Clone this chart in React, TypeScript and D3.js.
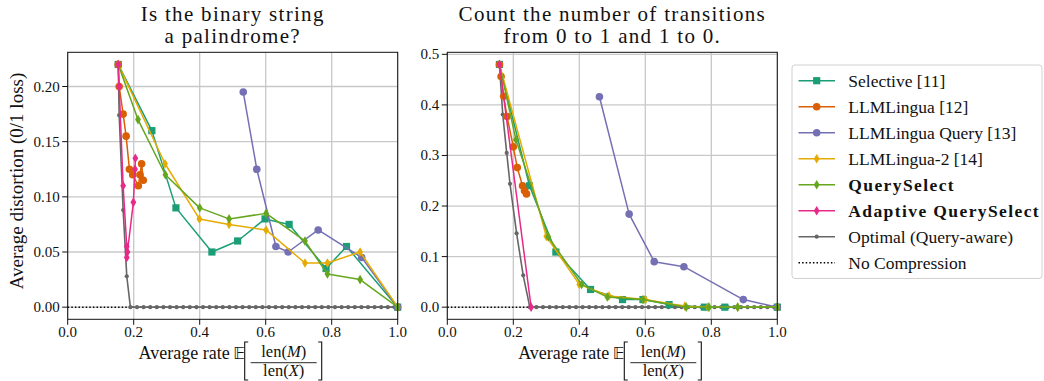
import * as d3 from 'd3';

type Pt = [number, number];

// ---- left panel: "Is the binary string a palindrome?" (rate, distortion)
const palSelective: Pt[] = [[0.153, 0.22], [0.255, 0.16], [0.328, 0.09], [0.437, 0.05], [0.515, 0.06], [0.598, 0.08], [0.671, 0.075], [0.783, 0.035], [0.845, 0.055], [1.0, 0.0]];
const palLingua: Pt[] = [[0.153, 0.22], [0.156, 0.2], [0.168, 0.175], [0.177, 0.155], [0.187, 0.125], [0.197, 0.12], [0.214, 0.11], [0.219, 0.12], [0.224, 0.13], [0.229, 0.115]];
const palLinguaQuery: Pt[] = [[0.532, 0.195], [0.573, 0.125], [0.631, 0.055], [0.668, 0.05], [0.759, 0.07], [0.891, 0.045], [1.0, 0.0]];
const palLingua2: Pt[] = [[0.153, 0.22], [0.295, 0.13], [0.399, 0.08], [0.489, 0.075], [0.601, 0.07], [0.719, 0.04], [0.787, 0.04], [0.886, 0.05], [1.0, 0.0]];
const palQuerySelect: Pt[] = [[0.153, 0.22], [0.213, 0.17], [0.296, 0.12], [0.4, 0.09], [0.489, 0.08], [0.601, 0.085], [0.719, 0.06], [0.787, 0.03], [0.886, 0.025], [1.0, 0.0]];
const palAdaptive: Pt[] = [[0.153, 0.22], [0.156, 0.2], [0.168, 0.11], [0.179, 0.055], [0.181, 0.05], [0.179, 0.045], [0.199, 0.095], [0.204, 0.125], [0.205, 0.135]];
const palOptimal: Pt[] = [
  [0.153, 0.22], [0.156, 0.174], [0.168, 0.088], [0.179, 0.028], [0.19, 0],
  [0.21, 0], [0.23, 0], [0.25, 0], [0.27, 0], [0.29, 0], [0.31, 0], [0.33, 0], [0.35, 0], [0.37, 0], [0.39, 0],
  [0.41, 0], [0.43, 0], [0.45, 0], [0.47, 0], [0.49, 0], [0.51, 0], [0.53, 0], [0.55, 0], [0.57, 0], [0.59, 0],
  [0.61, 0], [0.63, 0], [0.65, 0], [0.67, 0], [0.69, 0], [0.71, 0], [0.73, 0], [0.75, 0], [0.77, 0], [0.79, 0],
  [0.81, 0], [0.83, 0], [0.85, 0], [0.87, 0], [0.89, 0], [0.91, 0], [0.93, 0], [0.95, 0], [0.97, 0], [0.99, 0], [1.0, 0],
];

// ---- right panel: "Count the number of transitions"
const trSelective: Pt[] = [[0.158, 0.48], [0.249, 0.24], [0.329, 0.109], [0.434, 0.035], [0.531, 0.015], [0.593, 0.015], [0.672, 0.005], [0.779, 0.0], [0.841, 0.0], [1.0, 0.0]];
const trLingua: Pt[] = [[0.158, 0.48], [0.163, 0.456], [0.171, 0.417], [0.181, 0.377], [0.2, 0.317], [0.212, 0.276], [0.228, 0.24], [0.234, 0.23], [0.24, 0.224]];
const trLinguaQuery: Pt[] = [[0.461, 0.416], [0.551, 0.184], [0.627, 0.09], [0.717, 0.08], [0.897, 0.015], [1.0, 0.0]];
const trLingua2: Pt[] = [[0.158, 0.48], [0.3, 0.14], [0.4, 0.045], [0.49, 0.022], [0.6, 0.015], [0.72, 0.002], [0.79, 0.0], [0.88, 0.0], [1.0, 0.0]];
const trQuerySelect: Pt[] = [[0.158, 0.48], [0.208, 0.331], [0.306, 0.139], [0.407, 0.045], [0.485, 0.02], [0.593, 0.015], [0.724, 0.0], [0.793, 0.0], [0.88, 0.0], [1.0, 0.0]];
const trAdaptive: Pt[] = [[0.158, 0.48], [0.254, 0.0]];
const trOptimal: Pt[] = [
  [0.158, 0.48], [0.168, 0.381], [0.18, 0.305], [0.19, 0.244], [0.21, 0.146], [0.23, 0.063], [0.25, 0],
  [0.27, 0], [0.29, 0], [0.31, 0], [0.33, 0], [0.35, 0], [0.37, 0], [0.39, 0],
  [0.41, 0], [0.43, 0], [0.45, 0], [0.47, 0], [0.49, 0], [0.51, 0], [0.53, 0], [0.55, 0], [0.57, 0], [0.59, 0],
  [0.61, 0], [0.63, 0], [0.65, 0], [0.67, 0], [0.69, 0], [0.71, 0], [0.73, 0], [0.75, 0], [0.77, 0], [0.79, 0],
  [0.81, 0], [0.83, 0], [0.85, 0], [0.87, 0], [0.89, 0], [0.91, 0], [0.93, 0], [0.95, 0], [0.97, 0], [0.99, 0], [1.0, 0],
];

const methodNames = ['Selective [11]', 'LLMLingua [12]', 'LLMLingua Query [13]', 'LLMLingua-2 [14]', 'QuerySelect', 'Adaptive QuerySelect', 'Optimal (Query-aware)'];
const methodColors = ['#1b9e77', '#d95f02', '#7570b3', '#e6ab02', '#66a61e', '#e7298a', '#666666'];
const methodMarkers = ['square', 'circle', 'circle', 'diamond', 'diamond', 'diamond', 'point'];
const boldNames = new Set(['QuerySelect', 'Adaptive QuerySelect']);

const FONT = '"Liberation Serif", "Times New Roman", serif';

function Marker({ kind, x, y, color }) {
  if (kind === 'square') return <rect x={x - 3.6} y={y - 3.6} width={7.2} height={7.2} fill={color} />;
  if (kind === 'circle') return <circle cx={x} cy={y} r={3.8} fill={color} />;
  if (kind === 'point') return <circle cx={x} cy={y} r={2.1} fill={color} />;
  return <path d={`M${x},${y - 4.8}L${x + 2.9},${y}L${x},${y + 4.8}L${x - 2.9},${y}Z`} fill={color} />;
}

function XLabel({ cx }) {
  const base = 359;
  return (
    <g fontFamily={FONT} fill="#111">
      <text x={cx - 3} y={base} fontSize={18} textAnchor="end">Average rate</text>
      <text x={cx + 0.5} y={base} fontSize={16} fontFamily='"DejaVu Sans", "Noto Sans", sans-serif'>𝔼</text>
      <path d={`M${cx + 15.5},342 H${cx + 12} V380 H${cx + 15.5}`} fill="none" stroke="#111" strokeWidth={1.1} />
      <path d={`M${cx + 85.5},342 H${cx + 89} V380 H${cx + 85.5}`} fill="none" stroke="#111" strokeWidth={1.1} />
      <line x1={cx + 18} x2={cx + 84} y1={362.7} y2={362.7} stroke="#111" strokeWidth={0.9} />
      <text x={cx + 51} y={357.3} fontSize={16.5} textAnchor="middle">len(<tspan fontStyle="italic">M</tspan>)</text>
      <text x={cx + 51} y={376.3} fontSize={16.5} textAnchor="middle">len(<tspan fontStyle="italic">X</tspan>)</text>
    </g>
  );
}

function Panel({ x0, x1, y0, y1, title, datasets, yFmt, showYLabel }) {
  const x = d3.scaleLinear().domain([0, 1]).range([x0, x1]);
  const maxY = d3.max(datasets.flat(), (d: Pt) => d[1]) as number;
  const pad = maxY * 0.05;
  const y = d3.scaleLinear().domain([-pad, maxY + pad]).range([y1, y0]);
  const line = d3.line<Pt>().x((d) => x(d[0])).y((d) => y(d[1]));
  const xTicks = x.ticks(5);
  const yTicks = y.ticks(5);
  const fmt = d3.format(yFmt);
  const cx = (x0 + x1) / 2;
  // draw order: optimal underneath, then others in legend order
  const order = [6, 0, 1, 2, 3, 4, 5];

  return (
    <g>
      <text x={cx} y={20.5} fontFamily={FONT} fontSize={21} letterSpacing={1.3} fill="#111" textAnchor="middle">{title[0]}</text>
      <text x={cx} y={43} fontFamily={FONT} fontSize={21} letterSpacing={1.3} fill="#111" textAnchor="middle">{title[1]}</text>
      {xTicks.map((t) => (
        <line key={'gx' + t} x1={x(t)} x2={x(t)} y1={y0} y2={y1} stroke="#c8c8c8" strokeWidth={1.3} />
      ))}
      {yTicks.map((t) => (
        <line key={'gy' + t} x1={x0} x2={x1} y1={y(t)} y2={y(t)} stroke="#c8c8c8" strokeWidth={1.3} />
      ))}
      <line x1={x0} x2={x1} y1={y(0)} y2={y(0)} stroke="#000" strokeWidth={1.5} strokeDasharray="1.5 2.1" />
      {order.map((i) => {
        const data = datasets[i];
        return (
          <g key={i}>
            <path d={line(data) ?? ''} fill="none" stroke={methodColors[i]} strokeWidth={i === 6 ? 1.6 : 1.5} strokeLinejoin="round" />
            {data.map((d, j) => (
              <Marker key={j} kind={methodMarkers[i]} x={x(d[0])} y={y(d[1])} color={methodColors[i]} />
            ))}
          </g>
        );
      })}
      <rect x={x0} y={y0} width={x1 - x0} height={y1 - y0} fill="none" stroke="#111" strokeWidth={1} />
      {xTicks.map((t) => (
        <g key={'tx' + t}>
          <line x1={x(t)} x2={x(t)} y1={y1} y2={y1 + 5.5} stroke="#111" strokeWidth={1} />
          <text x={x(t)} y={337.3} fontFamily={FONT} fontSize={15} fill="#111" textAnchor="middle">{d3.format('.1f')(t)}</text>
        </g>
      ))}
      {yTicks.map((t) => (
        <g key={'ty' + t}>
          <line x1={x0 - 5.5} x2={x0} y1={y(t)} y2={y(t)} stroke="#111" strokeWidth={1} />
          <text x={x0 - 8} y={y(t) + 5} fontFamily={FONT} fontSize={15} fill="#111" textAnchor="end">{fmt(t)}</text>
        </g>
      ))}
      <XLabel cx={cx} />
      {showYLabel && (
        <text transform={`translate(23,181) rotate(-90)`} fontFamily={FONT} fontSize={19} fill="#111" textAnchor="middle">
          Average distortion (0/1 loss)
        </text>
      )}
    </g>
  );
}

function Legend() {
  const left = 792, top = 65, right = 1042, bottom = 278.5;
  const rowY = (i: number) => 80.7 + i * 26;
  const labels = [...methodNames, 'No Compression'];
  return (
    <g fontFamily={FONT}>
      <rect x={left} y={top} width={right - left} height={bottom - top} rx={3} fill="#fff" fillOpacity={0.8} stroke="#d0d0d0" strokeWidth={1} />
      {labels.map((name, i) => {
        const yy = rowY(i);
        const bold = boldNames.has(name);
        return (
          <g key={name}>
            {i < 7 ? (
              <>
                <line x1={798.5} x2={835} y1={yy} y2={yy} stroke={methodColors[i]} strokeWidth={1.5} />
                <Marker kind={methodMarkers[i]} x={816.7} y={yy} color={methodColors[i]} />
              </>
            ) : (
              <line x1={798.5} x2={835} y1={yy} y2={yy} stroke="#000" strokeWidth={1.5} strokeDasharray="1.5 2.1" />
            )}
            <text x={848.3} y={yy + 6} fontSize={17.5} fill="#111" fontWeight={bold ? 'bold' : 'normal'} letterSpacing={bold ? 1.4 : 0}>
              {name}
            </text>
          </g>
        );
      })}
    </g>
  );
}

export default function App() {
  const pal = [palSelective, palLingua, palLinguaQuery, palLingua2, palQuerySelect, palAdaptive, palOptimal];
  const tr = [trSelective, trLingua, trLinguaQuery, trLingua2, trQuerySelect, trAdaptive, trOptimal];
  return (
    <div style={{ position: 'absolute', left: 0, top: 0 }}>
      <svg width={1044} height={381} viewBox="0 0 1044 381" style={{ display: 'block', background: '#fff' }}>
        <Panel x0={67.7} x1={397.7} y0={52.3} y1={319.3} title={['Is the binary string', 'a palindrome?']} datasets={pal} yFmt=".2f" showYLabel />
        <Panel x0={447.3} x1={777.3} y0={52.3} y1={319.3} title={['Count the number of transitions', 'from 0 to 1 and 1 to 0.']} datasets={tr} yFmt=".1f" showYLabel={false} />
        <Legend />
      </svg>
    </div>
  );
}
